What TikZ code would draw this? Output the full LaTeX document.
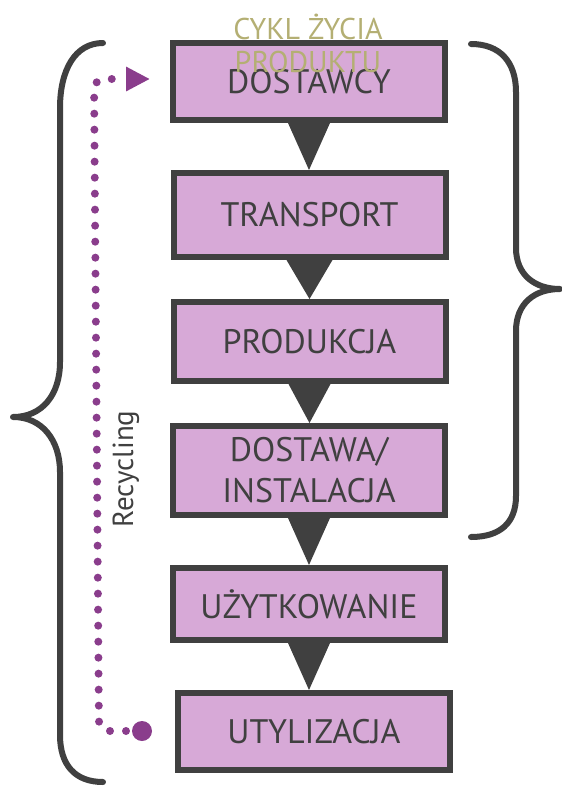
\documentclass[tikz,border=0pt]{standalone}
\usepackage{fontspec}
\setmainfont{PT Sans}
\usetikzlibrary{arrows.meta,calc}
\definecolor{boxfill}{HTML}{D7A9D7}
\definecolor{dark}{HTML}{404040}
\definecolor{olive}{HTML}{B4AF73}
\definecolor{purp}{HTML}{8A3D8C}
\begin{document}
\begin{tikzpicture}[x=1pt,y=-1pt,
  stage/.style={draw=dark, line width=6pt, fill=boxfill, minimum width=272pt,
    text=dark, font=\fontsize{34}{41}\selectfont, align=center, inner sep=0pt},
  tri/.style={fill=dark},
  brace/.style={draw=dark, line width=6pt, line cap=round, line join=round},
  recyc/.style={draw=purp, line width=8pt, line cap=round, dash pattern=on 0pt off 16pt, rounded corners=10pt},
]
\useasboundingbox (0,0) rectangle (562,788);

% stages
\node[stage, minimum height=77pt] (b1) at (309,81.5) {DOSTAWCY};
\node[stage, minimum height=84pt] (b2) at (309.5,215) {TRANSPORT};
\node[stage, minimum height=79pt] (b3) at (309.5,341.5) {PRODUKCJA};
\node[stage, minimum height=89pt] (b4) at (309,470.5) {DOSTAWA/\\INSTALACJA};
\node[stage, minimum height=72pt] (b5) at (309,604) {UŻYTKOWANIE};
\node[stage, minimum height=77pt] (b6) at (314,731.5) {UTYLIZACJA};

% triangular connectors
\fill[tri] ($(b1.south)+(-21,0)$) -- ($(b1.south)+(21,0)$) -- (b1.south |- b2.north) -- cycle;
\fill[tri] ($(b2.south)+(-23,0)$) -- ($(b2.south)+(23,0)$) -- (b2.south |- b3.north) -- cycle;
\fill[tri] ($(b3.south)+(-21,0)$) -- ($(b3.south)+(21,0)$) -- (b3.south |- b4.north) -- cycle;
\fill[tri] ($(b4.south)+(-21,0)$) -- ($(b4.south)+(21,0)$) -- (b4.south |- b5.north) -- cycle;
\fill[tri] ($(b5.south)+(-21,0)$) -- ($(b5.south)+(21,0)$) -- (b5.south |- b6.north) -- cycle;

% title
\node[text=olive, font=\fontsize{30}{33}\selectfont, align=center, inner sep=0pt] (title) at (308,43) {CYKL ŻYCIA\\PRODUKTU};

% braces
\draw[brace] (103,43) .. controls (75,43) and (60,70) .. (60,108) -- (60,362)
  .. controls (60,395) and (42,417) .. (13,417)
  .. controls (42,417) and (60,440) .. (60,472) -- (60,735)
  .. controls (60,765) and (75,782) .. (103,782);
\draw[brace] (471,44) .. controls (500,44) and (516,62) .. (516,92) -- (516,248)
  .. controls (516,275) and (535,289) .. (560,289)
  .. controls (535,289) and (516,303) .. (516,331) -- (516,496)
  .. controls (516,523) and (500,537) .. (471,537);

% recycling loop
\node[circle, fill=purp, minimum size=20pt, inner sep=0pt] (dotS) at (142,731) {};
\coordinate (rc1) at (99,731);
\coordinate (rc2) at (94,79);
\coordinate (rc3) at (150,79);
\draw[recyc, -{Triangle[length=24pt,width=23pt]}] (dotS.center) -- (rc1) -- (rc2) -- (rc3);
\node[rotate=90, text=dark, font=\fontsize{29}{34}\selectfont] (rec) at (126,469) {Recycling};
\end{tikzpicture}
\end{document}
